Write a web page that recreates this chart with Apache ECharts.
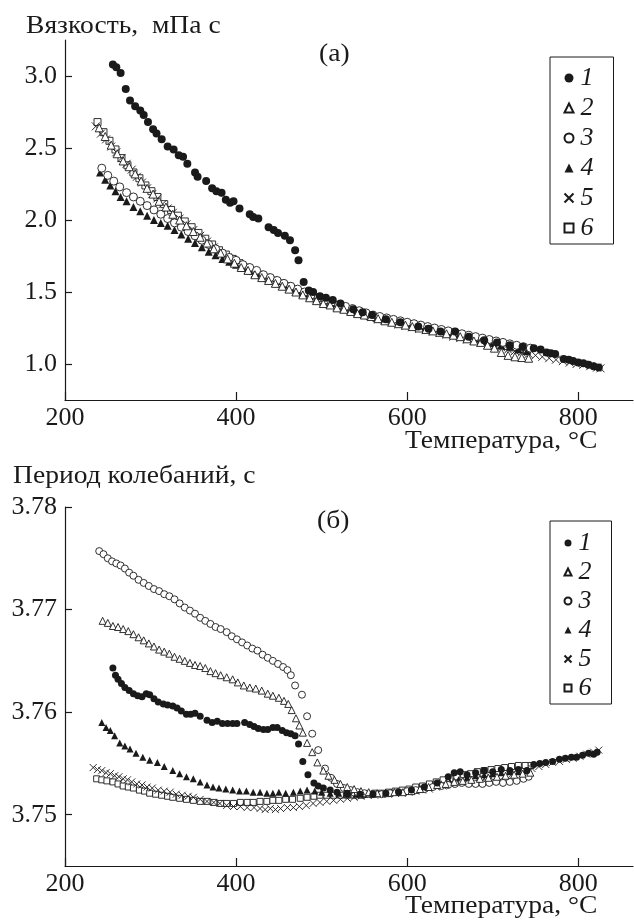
<!DOCTYPE html>
<html>
<head>
<meta charset="utf-8">
<script src="https://cdn.jsdelivr.net/npm/echarts@6/dist/echarts.min.js"></script>
<style>
  html, body { margin: 0; padding: 0; background: #fff; }
  #chart { width: 634px; height: 922px; }
</style>
</head>
<body>
<div id="chart"></div>
<script>
// temperature ticks and value ticks
const tempTicks = [200, 400, 600, 800];
const viscTicks = [1.0, 1.5, 2.0, 2.5, 3.0];
const periodTicks = [3.75, 3.76, 3.77, 3.78];
const names = ['1', '2', '3', '4', '5', '6'];

// (a) viscosity, mPa s  — [T, value]
const visc1 = [[256,3.08],[260,3.06],[265,3.02],[271,2.91],[276,2.83],[282,2.79],[288,2.76],[292,2.73],[297,2.68],[303,2.63],[307,2.60],[313,2.56],[320,2.51],[327,2.49],[333,2.45],[338,2.44],[343,2.39],[352,2.33],[355,2.30],[365,2.27],[372,2.22],[377,2.20],[383,2.19],[388,2.14],[393,2.12],[397,2.13],[404,2.08],[416,2.04],[420,2.02],[426,2.01],[438,1.95],[444,1.93],[449,1.91],[457,1.89],[463,1.86],[469,1.79],[473,1.72],[479,1.57],[485,1.51],[490,1.50],[498,1.47],[505,1.46],[513,1.445],[522,1.42],[537,1.38],[548,1.36],[559,1.34],[575,1.31],[592,1.29],[613,1.26],[625,1.245],[639,1.225],[656,1.225],[672,1.19],[690,1.165],[705,1.15],[720,1.13],[735,1.12],[748,1.11],[756,1.10],[763,1.08],[768,1.075],[773,1.07],[783,1.035],[789,1.03],[794,1.02],[800,1.01],[806,1.005],[812,0.995],[818,0.985],[824,0.975]];
const visc2 = [[240,2.64],[247,2.58],[254,2.52],[261,2.46],[268,2.41],[275,2.37],[282,2.32],[289,2.27],[296,2.22],[303,2.18],[310,2.13],[318,2.09],[326,2.04],[334,2.00],[342,1.96],[350,1.92],[358,1.88],[366,1.84],[374,1.80],[382,1.77],[390,1.73],[398,1.70],[406,1.67],[414,1.65],[422,1.62],[430,1.60],[438,1.58],[446,1.56],[454,1.54],[462,1.52],[470,1.50],[478,1.48],[486,1.46],[494,1.44],[502,1.42],[510,1.41],[518,1.39],[526,1.38],[534,1.365],[542,1.35],[550,1.34],[558,1.33],[566,1.315],[574,1.30],[582,1.29],[590,1.28],[598,1.27],[606,1.26],[614,1.25],[622,1.24],[630,1.23],[638,1.22],[646,1.21],[654,1.20],[662,1.19],[670,1.175],[678,1.16],[686,1.15],[694,1.13],[702,1.11],[710,1.08],[718,1.06],[726,1.05],[734,1.045],[742,1.04]];
const visc3 = [[243,2.36],[250,2.31],[257,2.27],[264,2.23],[272,2.19],[280,2.16],[288,2.13],[296,2.10],[304,2.07],[312,2.04],[320,2.01],[328,1.98],[336,1.95],[344,1.92],[352,1.89],[360,1.86],[368,1.83],[376,1.80],[384,1.77],[392,1.74],[400,1.72],[408,1.69],[416,1.67],[424,1.65],[432,1.62],[440,1.60],[448,1.58],[456,1.56],[464,1.54],[472,1.52],[480,1.50],[488,1.48],[496,1.46],[504,1.445],[512,1.43],[520,1.41],[528,1.40],[536,1.385],[544,1.37],[552,1.355],[560,1.34],[568,1.33],[576,1.32],[584,1.31],[592,1.30],[600,1.29],[608,1.28],[616,1.27],[624,1.26],[632,1.25],[640,1.24],[648,1.23],[656,1.22],[664,1.21],[672,1.20],[680,1.19],[688,1.18],[696,1.17],[704,1.16],[712,1.15],[720,1.14],[728,1.13],[736,1.12],[744,1.11]];
const visc4 = [[241,2.33],[247,2.28],[253,2.24],[259,2.20],[265,2.16],[272,2.13],[280,2.09],[288,2.06],[296,2.03],[304,2.00],[312,1.98],[320,1.96],[328,1.93],[336,1.90],[344,1.87],[352,1.84],[360,1.81],[368,1.78],[376,1.755],[384,1.73],[392,1.71],[400,1.69],[408,1.67],[416,1.65],[424,1.63],[432,1.615],[440,1.60],[448,1.575],[456,1.55],[464,1.525],[472,1.505],[480,1.49],[488,1.475],[496,1.46],[504,1.44],[512,1.42],[520,1.405],[530,1.39],[540,1.37],[550,1.35],[560,1.335],[570,1.32],[580,1.31],[590,1.295],[600,1.28],[610,1.27],[620,1.26],[630,1.245],[640,1.23],[650,1.215],[660,1.20],[670,1.19],[680,1.175],[690,1.16],[700,1.145],[710,1.13],[720,1.12],[730,1.10],[740,1.09]];
const visc5 = [[236,2.65],[242,2.60],[248,2.56],[254,2.51],[260,2.47],[266,2.43],[272,2.39],[278,2.35],[284,2.30],[290,2.26],[296,2.22],[302,2.18],[308,2.15],[314,2.11],[320,2.08],[326,2.05],[334,2.01],[342,1.97],[350,1.93],[358,1.89],[366,1.85],[374,1.81],[382,1.77],[390,1.74],[398,1.71],[406,1.68],[414,1.655],[422,1.63],[430,1.61],[438,1.59],[446,1.565],[454,1.545],[462,1.525],[470,1.505],[478,1.49],[486,1.47],[494,1.45],[502,1.43],[510,1.415],[518,1.40],[526,1.385],[534,1.37],[542,1.355],[550,1.34],[558,1.325],[566,1.31],[574,1.30],[582,1.29],[590,1.275],[598,1.265],[606,1.255],[614,1.245],[622,1.235],[630,1.225],[638,1.215],[646,1.205],[654,1.19],[662,1.18],[670,1.17],[678,1.16],[686,1.15],[694,1.135],[702,1.125],[710,1.115],[718,1.10],[726,1.09],[734,1.08],[742,1.07],[750,1.06],[758,1.05],[766,1.04],[774,1.03],[782,1.02],[790,1.01],[798,1.00],[806,0.995],[814,0.985],[822,0.975],[826,0.97]];
const visc6 = [[238,2.68],[245,2.61],[252,2.55],[259,2.49],[266,2.43],[273,2.38],[280,2.33],[287,2.29],[294,2.24],[301,2.20],[308,2.16],[316,2.11],[324,2.07],[332,2.03],[340,1.99],[348,1.95],[356,1.91],[364,1.87],[372,1.83],[380,1.79],[388,1.76],[396,1.73],[404,1.70],[412,1.67],[420,1.645],[428,1.62],[436,1.60],[444,1.58],[452,1.56],[460,1.54],[468,1.52],[476,1.50],[484,1.48],[492,1.46],[500,1.445],[508,1.43],[516,1.41],[524,1.395],[532,1.38],[540,1.365],[548,1.35],[556,1.335],[564,1.32],[572,1.31],[580,1.30],[588,1.29],[596,1.28],[604,1.27],[612,1.26],[620,1.25],[628,1.24],[636,1.23],[644,1.22],[652,1.21],[660,1.20],[668,1.19],[676,1.18],[684,1.165],[692,1.155],[700,1.145],[708,1.135],[716,1.125],[724,1.115],[732,1.105],[740,1.095]];

// (б) oscillation period, s — [T, value]
const period1 = [[256,3.7643],[259,3.7636],[262,3.7632],[266,3.7628],[270,3.7624],[275,3.7621],[280,3.7618],[285,3.7616],[290,3.7615],[295,3.7618],[299,3.7617],[304,3.7613],[309,3.7610],[315,3.7608],[320,3.7607],[326,3.7606],[331,3.7604],[336,3.7601],[342,3.7598],[347,3.7598],[352,3.7599],[358,3.7596],[366,3.7592],[372,3.7590],[378,3.7591],[384,3.7589],[390,3.7589],[396,3.7589],[401,3.7589],[410,3.7590],[416,3.7588],[421,3.7586],[426,3.7584],[432,3.7583],[437,3.7583],[443,3.7585],[448,3.7585],[454,3.7582],[459,3.7580],[464,3.7579],[469,3.7577],[473,3.7569],[478,3.7552],[484,3.7539],[491,3.7531],[496,3.7528],[502,3.7526],[510,3.7524],[518,3.7522],[530,3.7521],[545,3.7520],[560,3.7520],[575,3.7521],[590,3.7522],[605,3.7524],[620,3.7527],[635,3.7531],[648,3.7537],[655,3.7541],[662,3.7542],[670,3.7539],[680,3.7541],[690,3.7543],[700,3.7542],[710,3.7544],[720,3.7543],[730,3.7544],[740,3.7543],[748,3.7549],[755,3.7550],[762,3.7551],[770,3.7552],[778,3.7554],[785,3.7555],[792,3.7556],[798,3.7556],[805,3.7558],[812,3.7560],[818,3.7559],[822,3.7561]];
const period2 = [[244,3.7689],[250,3.7687],[256,3.7684],[262,3.7683],[268,3.7681],[274,3.7679],[280,3.7676],[286,3.7673],[292,3.7670],[298,3.7667],[304,3.7664],[310,3.7661],[316,3.7659],[322,3.7657],[328,3.7654],[334,3.7652],[340,3.7650],[346,3.7648],[352,3.7646],[358,3.7645],[364,3.7643],[370,3.7640],[376,3.7638],[382,3.7636],[389,3.7634],[396,3.7632],[402,3.7629],[409,3.7626],[416,3.7624],[423,3.7623],[430,3.7621],[437,3.7618],[443,3.7616],[450,3.7614],[456,3.7611],[461,3.7608],[465,3.7602],[470,3.7594],[474,3.7587],[478,3.7580],[483,3.7570],[489,3.7561],[495,3.7551],[502,3.7543],[508,3.7538],[515,3.7534],[522,3.7530],[530,3.7527],[538,3.7525],[546,3.7523],[555,3.7522],[565,3.7521],[575,3.7521],[585,3.7522],[595,3.7522],[605,3.7523],[615,3.7525],[625,3.7527],[635,3.7529],[645,3.7530],[655,3.7532],[665,3.7533],[675,3.7534],[685,3.7535],[695,3.7536],[705,3.7537],[715,3.7538],[725,3.7539],[735,3.7540],[744,3.7541]];
const period3 = [[240,3.7757],[245,3.7754],[250,3.7750],[255,3.7747],[260,3.7745],[265,3.7743],[270,3.7740],[275,3.7736],[280,3.7733],[286,3.7729],[292,3.7726],[298,3.7723],[304,3.7720],[310,3.7718],[316,3.7715],[322,3.7713],[328,3.7710],[334,3.7706],[340,3.7702],[346,3.7699],[352,3.7696],[358,3.7692],[364,3.7689],[370,3.7686],[376,3.7683],[382,3.7681],[389,3.7678],[395,3.7674],[401,3.7671],[407,3.7668],[413,3.7665],[419,3.7662],[425,3.7660],[431,3.7656],[437,3.7653],[443,3.7650],[449,3.7647],[455,3.7644],[460,3.7641],[464,3.7636],[469,3.7626],[477,3.7617],[483,3.7596],[489,3.7579],[496,3.7563],[504,3.7545],[511,3.7536],[518,3.7530],[526,3.7526],[534,3.7524],[542,3.7522],[550,3.7521],[560,3.7520],[570,3.7520],[580,3.7521],[590,3.7522],[600,3.7523],[610,3.7524],[620,3.7525],[630,3.7527],[640,3.7528],[648,3.7529],[656,3.7530],[664,3.7531],[672,3.7530],[680,3.7530],[688,3.7530],[696,3.7531],[704,3.7532],[712,3.7531],[720,3.7532],[728,3.7533],[736,3.7535],[742,3.7537]];
const period4 = [[243,3.7590],[248,3.7585],[253,3.7582],[258,3.7577],[264,3.7570],[270,3.7567],[276,3.7564],[283,3.7560],[291,3.7556],[299,3.7553],[308,3.7551],[316,3.7547],[326,3.7543],[334,3.7540],[342,3.7537],[350,3.7535],[358,3.7532],[366,3.7529],[373,3.7527],[380,3.7526],[388,3.7525],[396,3.7524],[404,3.7523],[412,3.7523],[420,3.7522],[428,3.7522],[436,3.7521],[443,3.7521],[450,3.7522],[458,3.7521],[467,3.7522],[475,3.7523],[483,3.7524],[492,3.7523],[500,3.7522],[510,3.7521],[520,3.7521],[530,3.7520],[540,3.7520],[550,3.7520],[560,3.7520],[570,3.7521],[580,3.7521],[590,3.7522],[600,3.7523],[610,3.7524],[620,3.7526],[630,3.7528],[640,3.7530],[650,3.7532],[660,3.7534],[670,3.7536],[680,3.7538],[690,3.7539],[700,3.7540],[710,3.7541],[720,3.7542],[730,3.7542],[740,3.7543]];
const period5 = [[233,3.7546],[238,3.7544],[243,3.7543],[248,3.7541],[253,3.7540],[258,3.7538],[263,3.7537],[268,3.7535],[273,3.7534],[278,3.7532],[284,3.7530],[290,3.7529],[296,3.7527],[302,3.7526],[309,3.7524],[316,3.7523],[323,3.7522],[330,3.7520],[337,3.7519],[344,3.7518],[350,3.7517],[358,3.7515],[366,3.7513],[374,3.7512],[381,3.7511],[389,3.7509],[397,3.7508],[405,3.7508],[413,3.7507],[421,3.7507],[428,3.7506],[434,3.7505],[440,3.7506],[446,3.7505],[452,3.7506],[460,3.7507],[467,3.7507],[474,3.7508],[482,3.7509],[490,3.7511],[498,3.7512],[506,3.7513],[514,3.7514],[522,3.7515],[530,3.7516],[538,3.7517],[546,3.7518],[554,3.7519],[562,3.7519],[570,3.7520],[578,3.7520],[586,3.7521],[594,3.7521],[602,3.7522],[610,3.7523],[618,3.7524],[626,3.7525],[634,3.7527],[642,3.7528],[650,3.7530],[658,3.7531],[666,3.7532],[674,3.7533],[682,3.7534],[690,3.7535],[698,3.7536],[706,3.7537],[714,3.7538],[722,3.7539],[730,3.7541],[738,3.7543],[746,3.7545],[754,3.7547],[762,3.7549],[770,3.7551],[778,3.7552],[786,3.7554],[794,3.7555],[802,3.7557],[810,3.7559],[818,3.7561],[824,3.7563]];
const period6 = [[237,3.7535],[243,3.7534],[249,3.7533],[256,3.7532],[262,3.7530],[268,3.7528],[274,3.7527],[280,3.7526],[287,3.7524],[293,3.7523],[299,3.7521],[306,3.7520],[313,3.7519],[320,3.7518],[326,3.7517],[334,3.7516],[342,3.7515],[350,3.7514],[358,3.7513],[366,3.7513],[374,3.7512],[382,3.7511],[389,3.7511],[397,3.7511],[405,3.7512],[413,3.7512],[420,3.7512],[428,3.7513],[436,3.7513],[443,3.7514],[450,3.7514],[458,3.7515],[466,3.7515],[475,3.7516],[483,3.7517],[491,3.7518],[498,3.7519],[506,3.7519],[514,3.7519],[522,3.7519],[530,3.7519],[538,3.7519],[546,3.7519],[554,3.7520],[562,3.7521],[570,3.7521],[578,3.7522],[586,3.7523],[594,3.7524],[602,3.7525],[610,3.7527],[618,3.7528],[626,3.7530],[634,3.7532],[642,3.7534],[650,3.7535],[658,3.7537],[666,3.7539],[674,3.7540],[682,3.7542],[690,3.7543],[698,3.7544],[706,3.7545],[714,3.7546],[722,3.7547],[730,3.7548],[738,3.7548],[745,3.7548]];

const viscData = [visc1, visc2, visc3, visc4, visc5, visc6];
const periodData = [period1, period2, period3, period4, period5, period6];

const FONT = '"Liberation Serif", "Times New Roman", serif';
const INK = '#1a1a1a';
const CROSS = 'path://M0,0L10,10M10,0L0,10';

// marker look for curves 1..6
const markers = [
  { symbol: 'circle',   fill: INK },
  { symbol: 'triangle', fill: '#fff' },
  { symbol: 'circle',   fill: '#fff' },
  { symbol: 'triangle', fill: INK },
  { symbol: CROSS,      fill: 'none' },
  { symbol: 'rect',     fill: '#fff' }
];

function makeSeries(data, axis, size) {
  return data.map((d, i) => ({
    name: names[i],
    type: 'scatter',
    xAxisIndex: axis,
    yAxisIndex: axis,
    data: d,
    symbol: markers[i].symbol,
    symbolSize: i === 5 ? size - 1 : size,
    itemStyle: { color: markers[i].fill, borderColor: INK, borderWidth: i === 0 || i === 3 ? 0 : 0.9, opacity: 1 },
    emphasis: { disabled: true },
    silent: true,
    z: 6 - i
  }));
}

function xAxisFor(idx) {
  return {
    type: 'value', gridIndex: idx, min: 200, max: 864,
    axisLine: { onZero: false, lineStyle: { color: INK, width: 1.2 } },
    axisTick: { inside: true, length: 8, customValues: tempTicks, lineStyle: { color: INK, width: 1.2 } },
    axisLabel: { customValues: tempTicks, margin: 5, fontFamily: FONT, fontSize: 26, color: INK },
    splitLine: { show: false }
  };
}

function yAxisFor(idx, min, max, ticks, digits) {
  return {
    type: 'value', gridIndex: idx, min: min, max: max,
    axisLine: { onZero: false, lineStyle: { color: INK, width: 1.2 } },
    axisTick: { inside: true, length: 7, customValues: ticks, lineStyle: { color: INK, width: 1.2 } },
    axisLabel: { customValues: ticks, margin: 8, fontFamily: FONT, fontSize: 26, color: INK,
      formatter: v => v.toFixed(digits) },
    splitLine: { show: false }
  };
}

function legendFor(top, icon, gap, lh, padTop) {
  return {
    orient: 'vertical', left: 550, top: top,
    data: names,
    itemWidth: icon, itemHeight: icon, itemGap: gap,
    padding: [padTop, 20, 3, 12],
    borderColor: INK, borderWidth: 1,
    selectedMode: false,
    textStyle: { fontFamily: FONT, fontStyle: 'italic', fontSize: 26, lineHeight: lh, color: INK, padding: [0, 0, 0, 2] }
  };
}

function label(text, left, top) {
  return { type: 'text', left: left, top: top, scaleX: 1.06,
    style: { text: text, font: '26px ' + FONT, fill: INK } };
}

const chart = echarts.init(document.getElementById('chart'), null, { renderer: 'canvas' });
chart.setOption({
  animation: false,
  backgroundColor: '#fff',
  grid: [
    { left: 65, right: 1, top: 40, bottom: 522 },
    { left: 65, right: 1, top: 507, bottom: 56 }
  ],
  xAxis: [xAxisFor(0), xAxisFor(1)],
  yAxis: [
    yAxisFor(0, 0.75, 3.25, viscTicks, 1),
    yAxisFor(1, 3.745, 3.78, periodTicks, 2)
  ],
  legend: [legendFor(57, 9, 4, 24.6, 8), legendFor(521, 7, 3, 24.3, 9)],
  graphic: [
    label('Вязкость,  мПа с', 26, 13),
    label('(а)', 319, 41),
    label('Температура, °С', 405, 428),
    label('Период колебаний, с', 13, 463),
    label('(б)', 317, 508),
    label('Температура, °С', 405, 893)
  ],
  series: makeSeries(viscData, 0, 8).concat(makeSeries(periodData, 1, 7))
});
</script>
</body>
</html>
